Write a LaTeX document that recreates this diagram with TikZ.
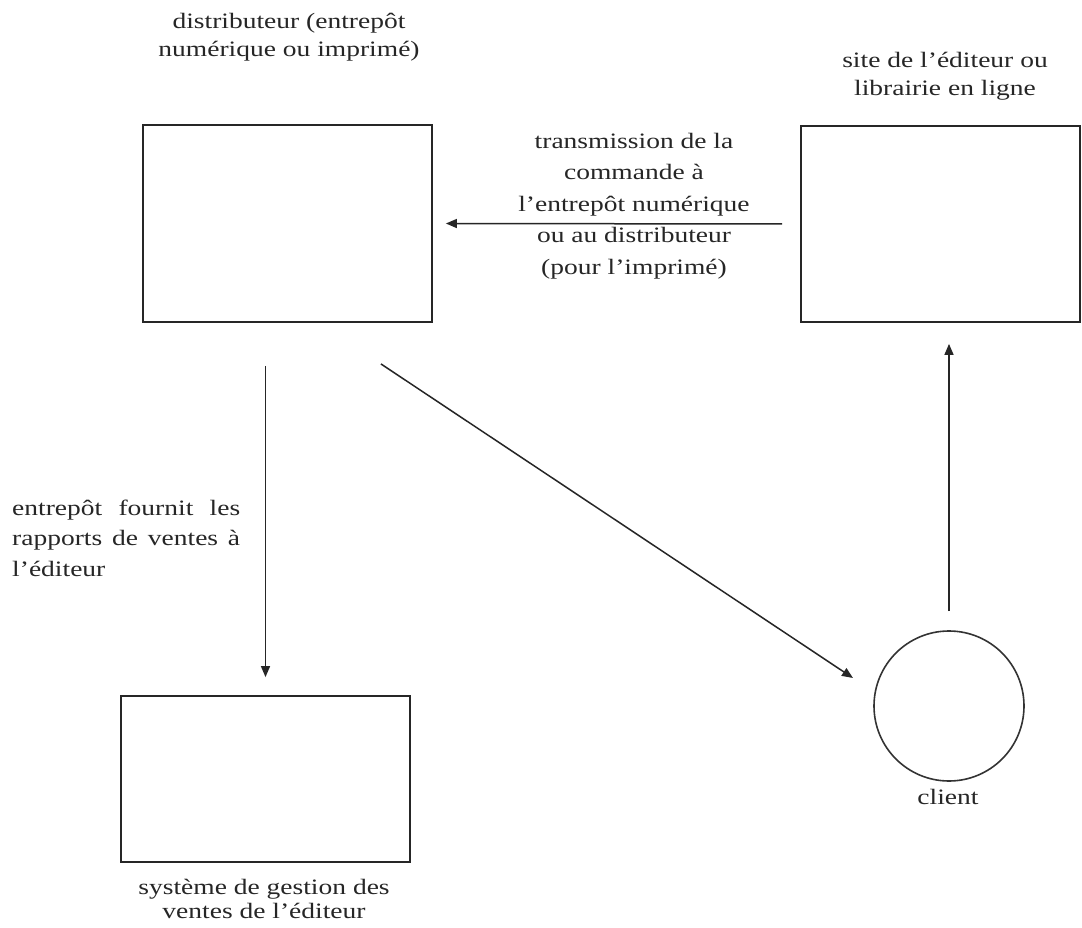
\documentclass[tikz,border=0pt]{standalone}
\usepackage{fontspec}
\setmainfont{Liberation Serif}[FakeStretch=1.25]
\usetikzlibrary{arrows.meta}
\begin{document}
\begin{tikzpicture}[x=1pt,y=-1pt,
  box/.style={draw=black!85,line width=1.8pt,inner sep=0pt},
  circ/.style={draw=black!80,line width=1.6pt,circle,inner sep=0pt,minimum size=150pt},
  lbl/.style={align=center,inner sep=0pt,font=\fontsize{22}{28}\selectfont,text=black!85},
  arr/.style={draw=black!85,line width=1.5pt,-{Triangle[length=11pt,width=9pt]}}]
\useasboundingbox (0,0) rectangle (1082,928);
\fill[white] (0,0) rectangle (1082,928);
% boxes
\node[box,minimum width=289pt,minimum height=197pt] (dist) at (287.5,223.5) {};
\node[box,minimum width=279pt,minimum height=196pt] (site) at (940.5,224) {};
\node[box,minimum width=289pt,minimum height=166pt] (sys) at (265.5,779) {};
\node[circ] (client) at (949,706) {};
% labels
\node[lbl] (ldist) at (289,37) {distributeur (entrepôt\\numérique ou imprimé)};
\node[lbl] (lsite) at (945,76) {site de l’éditeur ou\\librairie en ligne};
\node[lbl,font=\fontsize{22}{31.5}\selectfont] (ltrans) at (634,206) {transmission de la\\commande à\\l’entrepôt numérique\\ou au distributeur\\(pour l’imprimé)};
\node[lbl,align=left,font=\fontsize{22}{30.5}\selectfont,anchor=west] (lrap) at (12,538)
  {\makebox[228pt][s]{entrepôt fournit les}\\\makebox[228pt][s]{rapports de ventes à}\\l’éditeur};
\node[lbl] (lclient) at (948,797) {client};
\node[lbl,font=\fontsize{22}{23.5}\selectfont] (lsys) at (264,899) {système de gestion des\\ventes de l’éditeur};
% connectors
\draw[arr] ([xshift=-18pt]site.west) -- ([xshift=13pt]dist.east);
\draw[arr] ([yshift=-43pt]dist.south -| sys.north) -- ([yshift=18pt]sys.north);
\draw[arr] ([shift={(-52pt,-41pt)}]dist.south east) -- ([shift={(-96pt,28pt)}]client.center);
\draw[arr] ([yshift=19pt]client.north) -- ([yshift=-21pt]client.north |- site.south);
\end{tikzpicture}
\end{document}
